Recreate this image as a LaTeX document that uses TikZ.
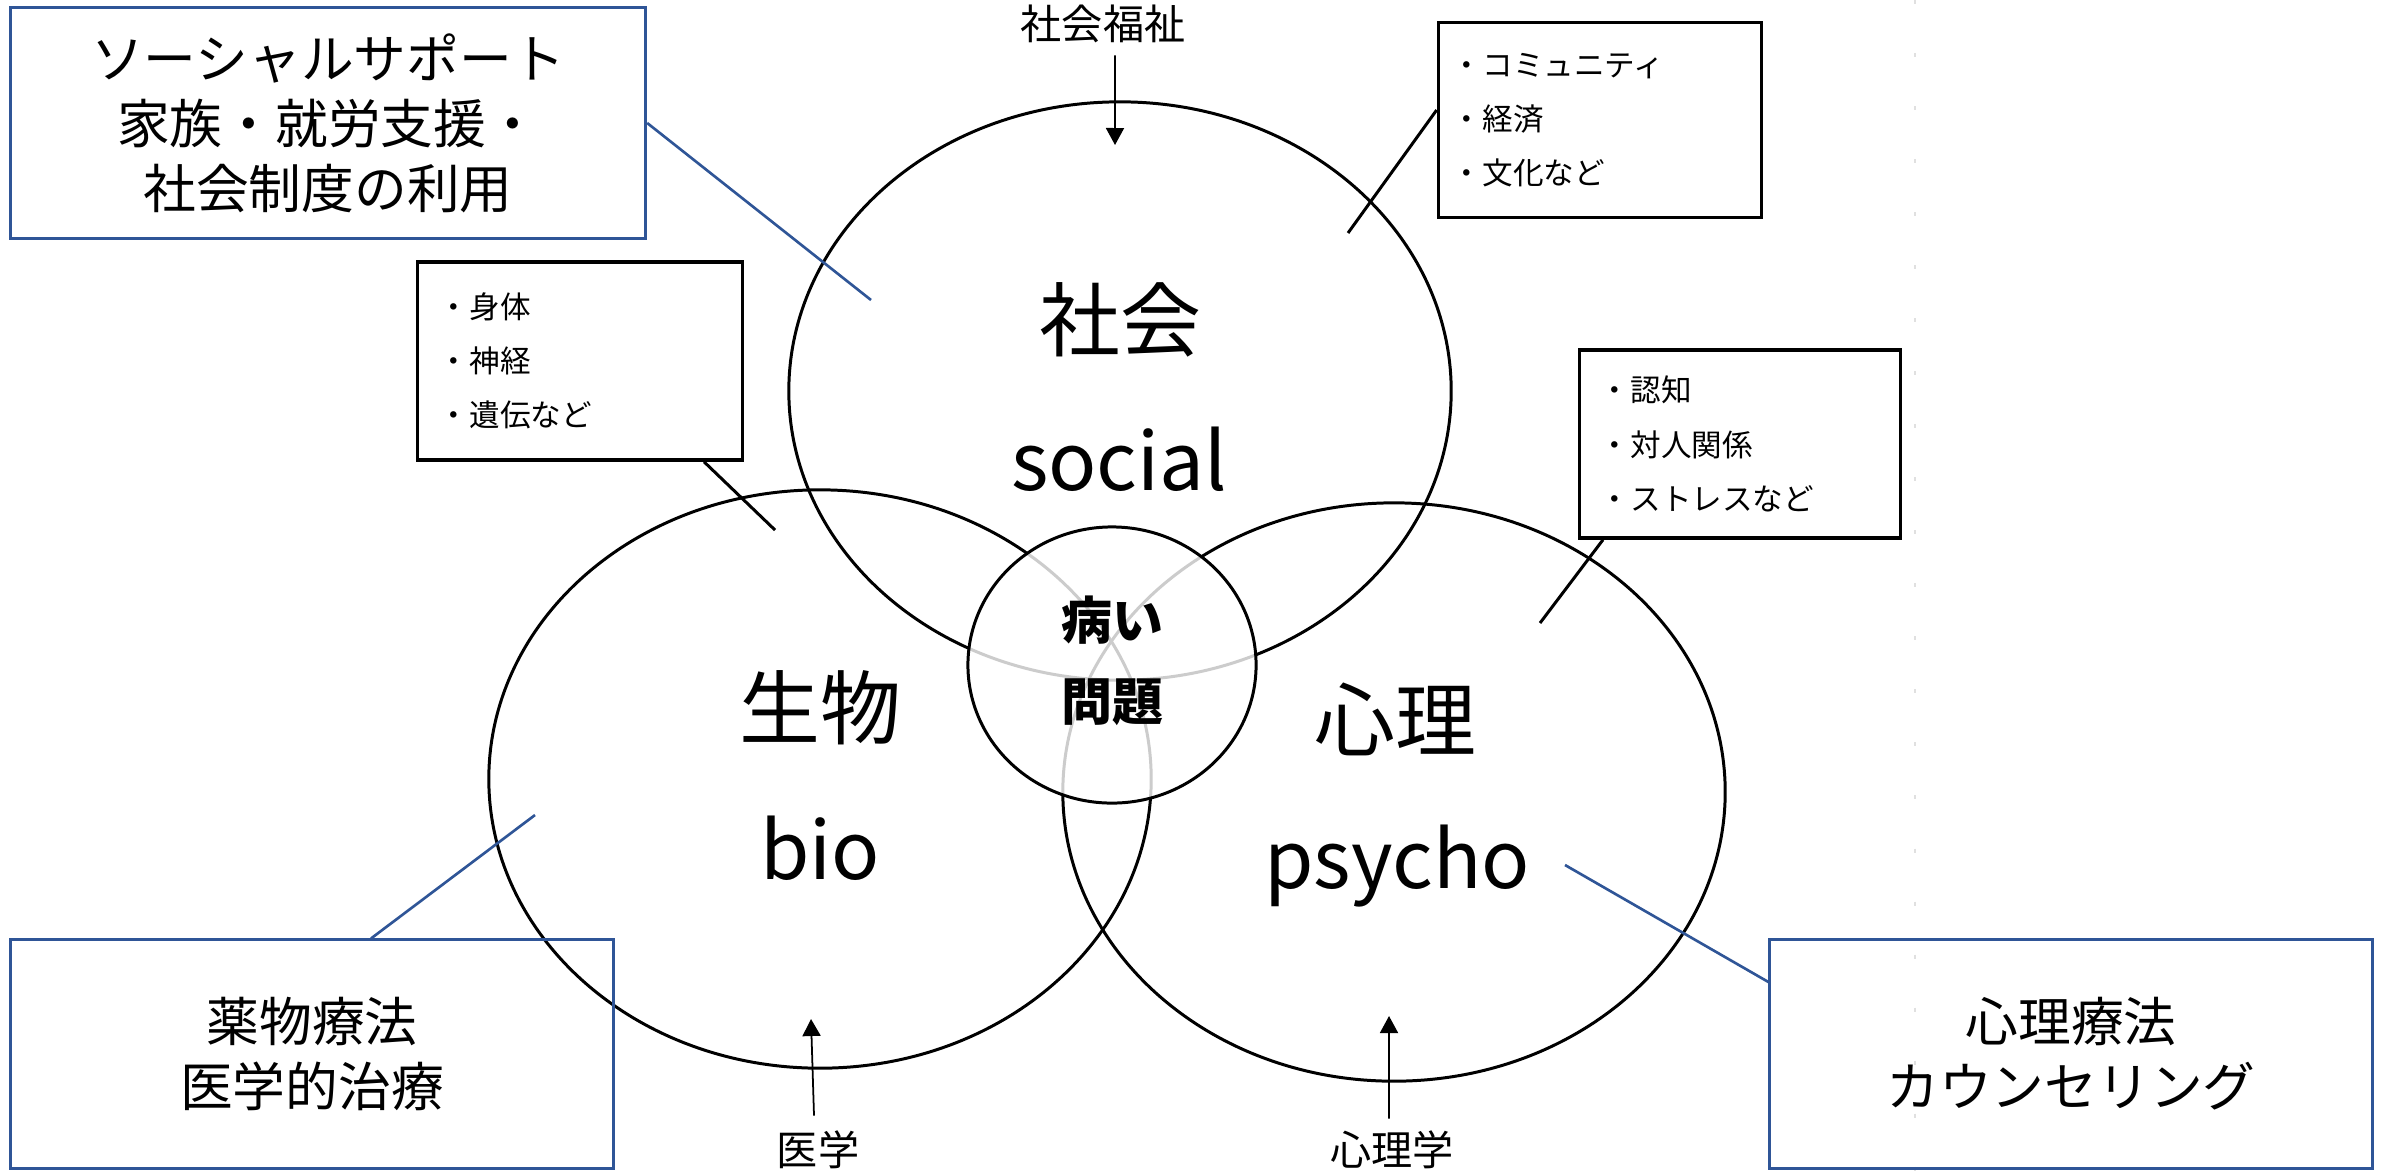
\documentclass[tikz,border=0pt]{standalone}
\usepackage{fontspec}
\setmainfont{Noto Sans CJK JP}
\usetikzlibrary{shapes.geometric,arrows.meta,calc}
\definecolor{boxblue}{RGB}{47,85,151}
\begin{document}
\begin{tikzpicture}[x=0.01cm,y=-0.01cm,
  bigcirc/.style={ellipse, draw, line width=0.85pt, minimum width=6.62cm, minimum height=5.78cm, inner sep=0pt},
  corecirc/.style={ellipse, draw, line width=0.85pt, fill=white, fill opacity=0.8, text opacity=1, minimum width=2.88cm, minimum height=2.76cm, inner sep=0pt},
  bluebox/.style={draw=boxblue, line width=0.85pt, align=center, inner sep=0pt, font=\fontsize{15}{18.5}\selectfont},
  listbox/.style={draw, line width=1pt, align=left, inner sep=0pt, font=\fontsize{8.7}{15.4}\selectfont},
  cjklabel/.style={font=\fontsize{23}{27}\selectfont},
  latlabel/.style={anchor=base, font=\fontsize{22.7}{27}\selectfont},
  corelabel/.style={align=center, font=\bfseries\fontsize{14.5}{23}\selectfont},
  fieldlabel/.style={font=\fontsize{11.7}{14}\selectfont},
  bluelink/.style={draw=boxblue, line width=0.75pt},
  blacklink/.style={draw, line width=0.85pt},
  fieldarrow/.style={-{Triangle[width=0.18cm,length=0.17cm]}, line width=0.5pt}
]
\useasboundingbox (0,0) rectangle (2389,1172);
\fill[white] (0,0) rectangle (2389,1172);
% faint page guide
\draw[black!12, line width=0.5pt, dash pattern=on 0.04cm off 0.49cm] (1915,0) -- (1915,1172);

% three ellipses
\node[bigcirc] (soc) at (1120,391) {};
\node[bigcirc] (bio) at (820,779) {};
\node[bigcirc] (psy) at (1394,792) {};
% core circle
\node[corecirc] (core) at (1112,665) {};
\node[corelabel] (coretext) at (1112,661) {病い\\問題};

% ellipse labels
\node[cjklabel] (socj) at (1120,320) {社会};
\node[latlabel] (soce) at (1119,490) {social};
\node[cjklabel] (bioj) at (820,708) {生物};
\node[latlabel] (bioe) at (820,879) {bio};
\node[cjklabel] (psyj) at (1395,719) {心理};
\node[latlabel] (psye) at (1397,888) {psycho};

% blue boxes
\node[bluebox, minimum width=6.35cm, minimum height=2.30cm] (tl) at (328,123) {ソーシャルサポート\\家族・就労支援・\\社会制度の利用};
\node[bluebox, minimum width=6.03cm, minimum height=2.28cm] (bl) at (312,1054) {薬物療法\\医学的治療};
\node[bluebox, minimum width=6.02cm, minimum height=2.28cm] (br) at (2071,1054) {心理療法\\カウンセリング};

% list boxes
\node[listbox, minimum width=3.25cm, minimum height=1.98cm, text width=2.82cm] (lb) at (580,361) {・身体\\・神経\\・遺伝など};
\node[listbox, minimum width=3.23cm, minimum height=1.95cm, text width=2.96cm] (trb) at (1600,120) {・コミュニティ\\・経済\\・文化など};
\node[listbox, minimum width=3.21cm, minimum height=1.88cm, text width=2.80cm] (rb) at (1740,444) {・認知\\・対人関係\\・ストレスなど};

% connector free ends
\coordinate (tlEnd) at (871,300);
\coordinate (blEnd) at (535,815);
\coordinate (brEnd) at (1565,865);
\coordinate (lbEnd) at (775,530);
\coordinate (trbEnd) at (1348,233);
\coordinate (rbEnd) at (1540,623);

\draw[bluelink] (tl.east) -- (tlEnd);
\draw[bluelink] ([xshift=0.59cm]bl.north) -- (blEnd);
\draw[bluelink] ([yshift=0.72cm]br.west) -- (brEnd);
\draw[blacklink] ([xshift=1.24cm]lb.south) -- (lbEnd);
\draw[blacklink] ([yshift=0.10cm]trb.west) -- (trbEnd);
\draw[blacklink] ([xshift=-1.37cm]rb.south) -- (rbEnd);

% field labels and arrows
\node[fieldlabel] (sw) at (1103,24) {社会福祉};
\node[fieldlabel] (med) at (818,1150) {医学};
\node[fieldlabel] (psyc) at (1392,1150) {心理学};
\coordinate (swEnd) at (1115,145);
\coordinate (medEnd) at (811,1019);
\coordinate (psycEnd) at (1389,1016);
\draw[fieldarrow] ([xshift=0.12cm]sw.south) -- (swEnd);
\draw[fieldarrow] ([xshift=-0.04cm,yshift=0.03cm]med.north) -- (medEnd);
\draw[fieldarrow] ([xshift=-0.03cm]psyc.north) -- (psycEnd);
\end{tikzpicture}
\end{document}
